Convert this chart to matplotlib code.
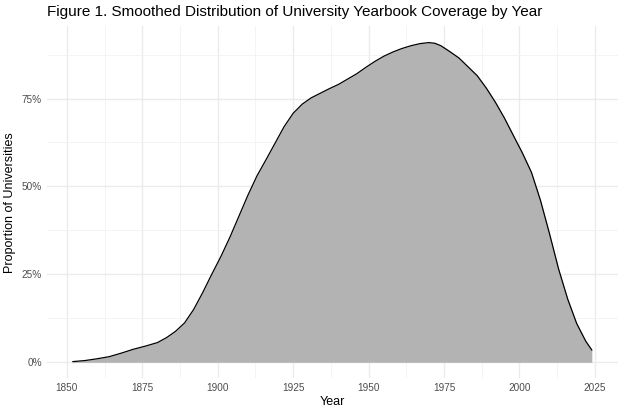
import numpy as np
import matplotlib
matplotlib.use("Agg")
import matplotlib.pyplot as plt
from matplotlib.ticker import FuncFormatter, MultipleLocator

plt.rcParams['font.family'] = ['Liberation Sans', 'DejaVu Sans']

# smoothed density curve (year, share of universities in %)
years = [1852, 1856, 1860, 1864, 1868, 1872, 1876, 1880, 1883, 1886, 1889, 1892,
         1895, 1898, 1901, 1904, 1907, 1910, 1913, 1916, 1919, 1922, 1925, 1928,
         1931, 1934, 1937, 1940, 1943, 1946, 1949, 1952, 1955, 1958, 1961, 1964,
         1967, 1970, 1972, 1974, 1977, 1980, 1983, 1986, 1989, 1992, 1995, 1998,
         2001, 2004, 2007, 2010, 2013, 2016, 2019, 2022, 2024]
share = [0.2, 0.5, 1.0, 1.6, 2.6, 3.7, 4.6, 5.6, 7.0, 8.8, 11.2, 15.0,
         19.8, 25.0, 30.0, 35.5, 41.5, 47.5, 53.0, 57.6, 62.3, 67.0, 70.8, 73.4,
         75.2, 76.5, 77.8, 79.0, 80.5, 82.0, 83.8, 85.5, 87.0, 88.2, 89.2, 90.0,
         90.6, 90.9, 90.7, 90.0, 88.3, 86.5, 84.0, 81.5, 78.0, 74.0, 69.5, 64.5,
         59.5, 54.0, 46.0, 36.5, 26.5, 18.0, 11.0, 6.0, 3.5]

x_ticks = [1850, 1875, 1900, 1925, 1950, 1975, 2000, 2025]
y_ticks = [0, 25, 50, 75]

x = np.array(years)
y = np.array(share) / 100.0

fig = plt.figure(figsize=(6.24, 4.16), dpi=100)
ax = fig.add_axes([0.0753, 0.0906, 0.9147, 0.8459])

ax.fill_between(x, 0, y, color='#B3B3B3', linewidth=0, zorder=2)
ax.plot(x, y, color='black', linewidth=0.9, zorder=3)

ax.set_xlim(1843.4, 2032.6)
ax.set_ylim(-0.0455, 0.955)

ax.set_xticks(x_ticks)
ax.set_yticks([v / 100 for v in y_ticks])
ax.xaxis.set_minor_locator(MultipleLocator(12.5))
ax.yaxis.set_minor_locator(MultipleLocator(0.125))
ax.yaxis.set_major_formatter(FuncFormatter(lambda v, p: f"{v*100:.0f}%"))

ax.grid(which='major', color='#EBEBEB', linewidth=1.0, zorder=0)
ax.grid(which='minor', color='#F3F3F3', linewidth=0.6, zorder=0)
ax.set_axisbelow(True)
for s in ax.spines.values():
    s.set_visible(False)
ax.tick_params(which='both', length=0)
ax.tick_params(axis='both', labelsize=7.2, labelcolor='#4D4D4D', pad=3.6)

ax.set_xlabel('Year', fontsize=9, labelpad=2)
ax.set_ylabel('Proportion of Universities', fontsize=9, labelpad=4)

fig.text(0.0753, 0.971, 'Figure 1. Smoothed Distribution of University Yearbook Coverage by Year',
         fontsize=11, ha='left', va='center')

fig.savefig('out.png', dpi=100)
